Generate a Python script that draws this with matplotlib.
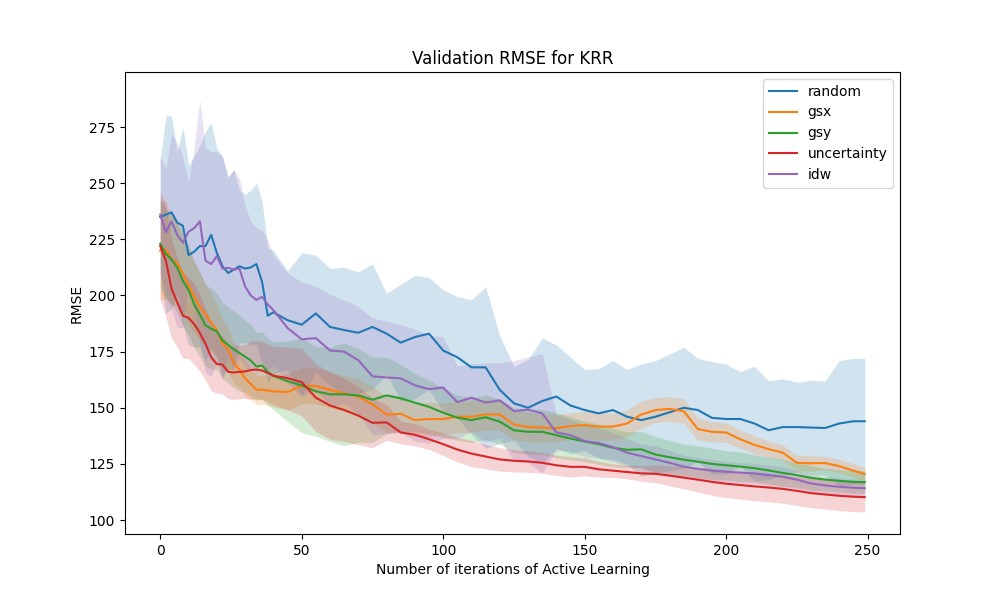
import numpy as np
import matplotlib
matplotlib.use("Agg")
import matplotlib.pyplot as plt

iterations = list(range(0, 41, 2)) + list(range(45, 246, 5)) + [249]

random_mean = [235, 236, 237, 232.5, 231, 218, 219.5, 222, 222, 227, 219, 213, 210, 211.5, 213, 212, 212.5, 214, 206, 191, 192.5,
               189, 187, 192, 186, 184.6, 183.4, 186, 183, 179, 181.5, 183, 175.5, 172.5, 168, 168, 158, 152, 150, 153, 155,
               151, 149, 147.5, 149, 146, 144.5, 146, 148, 150, 149, 145.5, 145, 145, 143, 140, 141.4, 141.4, 141.2, 141, 143,
               144, 144]
random_sd = [25, 44, 43, 31, 44, 40, 42.5, 45, 51, 50, 46.5, 49, 43, 44.5, 34, 33, 34.5, 36, 36, 30, 27.5,
             22, 32, 26, 26, 28, 27, 28, 18, 26, 27.5, 25, 27, 27, 30, 36, 24, 16.5, 21.5, 28, 23,
             21.5, 18, 20, 22, 21, 25, 25, 26, 27, 23, 25, 24.5, 21, 25.5, 22, 21.5, 20, 21, 21, 28,
             28, 28]

gsx_mean = [220, 220.5, 216, 214.5, 209.8, 204.5, 199.5, 195, 191.5, 188, 184.6, 178.6, 176, 170, 167, 163, 160.6, 158, 158, 157.7, 157.3,
            157, 159.8, 159.7, 158, 156.4, 155, 151.5, 147, 147.3, 144.5, 145, 145, 146, 146, 147, 147, 142.5, 141.4, 141.2, 140.9,
            141.8, 142.3, 141.6, 141.6, 143, 147, 149, 149.5, 148.5, 140.5, 139.3, 139, 136, 133.5, 131.6, 130, 125.5, 125.3, 125.4, 124,
            122, 120.5]
gsx_sd = [22, 22, 20, 19, 18, 17, 16, 15, 14, 13, 12, 11, 10, 9, 8, 8, 7, 6.5, 6.5, 6.5, 7,
          8, 8, 8, 8, 8, 8, 8, 8, 8, 7.5, 7.5, 7, 7, 7, 7, 7, 6.5, 6.5, 6.5, 6,
          6, 6, 6, 6, 6, 6, 5.5, 5.5, 5.5, 5, 4.5, 4.5, 4, 4, 3.5, 3.5, 3.5, 3.5, 3, 3,
          3, 3]

gsy_mean = [223, 218.5, 216, 212.5, 206.5, 202.5, 196, 191.5, 186.7, 185.2, 184, 180, 178, 176, 174.4, 172.8, 171, 168.4, 168.8, 166, 164.2,
            161.8, 160, 157.3, 156, 156, 155.5, 153.6, 155.5, 154.2, 152.3, 150.4, 147.8, 145.6, 144.5, 145.8, 143.8, 140, 139.3, 139.3, 137.8,
            136.3, 135, 133.8, 132.2, 131.3, 131.5, 129.2, 128, 126.9, 126, 125, 124.4, 123.8, 123.1, 122.1, 121, 120, 118.8, 118, 117.5,
            117, 116.9]
gsy_sd = [20, 20, 20, 20, 20, 20, 19, 19, 18, 18, 17, 17, 17, 17, 17, 16, 16, 15, 15, 15, 15,
          18, 21, 20, 21, 23, 21, 19, 17, 15, 13, 12, 11, 10, 10, 10, 10, 10, 10, 10, 10,
          9.5, 9, 9, 8.5, 8, 8, 8, 7.5, 7, 7, 7, 6.5, 6.5, 6, 6, 6, 5.5, 5.5, 5, 5,
          5, 5]

unc_mean = [222, 215.5, 203, 197, 191, 190, 187.3, 183.3, 178.5, 172.5, 169.5, 169.2, 166, 165.7, 166, 166.2, 166.8, 167, 166.6, 165.5, 164.3,
            163.2, 161.4, 154.5, 151, 149, 146.5, 143.3, 143.5, 139, 138, 136, 133.8, 131.4, 129.6, 128.3, 127, 126.4, 126.1, 125.5, 124.4,
            123.7, 123.7, 122.6, 122, 121.4, 120.8, 120.6, 119.8, 118.9, 118, 117, 116.2, 115.6, 115, 114.5, 113.9, 113, 112, 111.4, 110.8,
            110.4, 110.2]
unc_sd = [24, 25, 22, 20, 19, 18, 18, 17, 16, 15, 13, 13, 12, 12, 12, 12, 13, 13, 13, 13, 13,
          14, 15, 15, 15, 14, 13, 11, 8, 5, 5, 4.5, 5, 5.5, 5.8, 5.5, 5.2, 5, 4.8, 4.6, 4.5,
          4.5, 4, 3.5, 3, 3, 3.5, 4, 4.5, 5, 5.5, 6, 6.2, 6.3, 6.3, 6.4, 6.4, 6.5, 6.5, 6.5, 6.6,
          6.6, 6.6]

idw_mean = [236, 228.2, 233, 227, 223.5, 228.4, 230, 233, 215.5, 214, 217.5, 212, 212.3, 211.5, 212, 204, 200, 198, 199.4, 196, 193.5,
            185.5, 180.5, 181, 175.5, 175, 171.2, 164, 163.5, 163.1, 160, 158.3, 159, 152.5, 154.5, 152.3, 153.3, 148.5, 149.2, 147.5, 139,
            137.8, 135.2, 134.3, 132.5, 130, 128.5, 127, 125.5, 123.8, 122.8, 122, 121.5, 121.1, 120.8, 120, 119.3, 118, 116.3, 115.4, 114.8,
            114.4, 114.2]
idw_sd = [26, 28, 39, 41, 38, 22, 36, 54, 50, 50, 46.5, 50, 40, 44.5, 40, 36, 33, 32, 29.6, 29, 24.5,
          24.5, 25.5, 23, 25, 23, 24, 26, 25, 24, 25, 24, 22.6, 16, 15, 17.7, 16.7, 22.5, 23.5, 26.5, 8,
          7, 7, 6.7, 6.5, 6, 5.5, 6, 5.5, 5, 5, 5, 4.5, 4.5, 4.5, 4.5, 4.5, 4, 4, 4, 4,
          4, 4]

labels = ["random", "gsx", "gsy", "uncertainty", "idw"]
means = [random_mean, gsx_mean, gsy_mean, unc_mean, idw_mean]
sds = [random_sd, gsx_sd, gsy_sd, unc_sd, idw_sd]
colors = ["#1f77b4", "#ff7f0e", "#2ca02c", "#d62728", "#9467bd"]

fig, ax = plt.subplots(figsize=(10, 6), dpi=100)
x = np.array(iterations)
for lab, m, s, c in zip(labels, means, sds, colors):
    m = np.array(m, dtype=float)
    s = np.array(s, dtype=float)
    ax.plot(x, m, color=c, label=lab)
    ax.fill_between(x, m - s, m + s, color=c, alpha=0.2, linewidth=0)

ax.set_xlim(-12.45, 261.45)
ax.set_ylim(93.8, 299.5)
ax.set_title("Validation RMSE for KRR")
ax.set_xlabel("Number of iterations of Active Learning")
ax.set_ylabel("RMSE")
ax.legend(loc="upper right")
fig.savefig("out.png", dpi=100)
